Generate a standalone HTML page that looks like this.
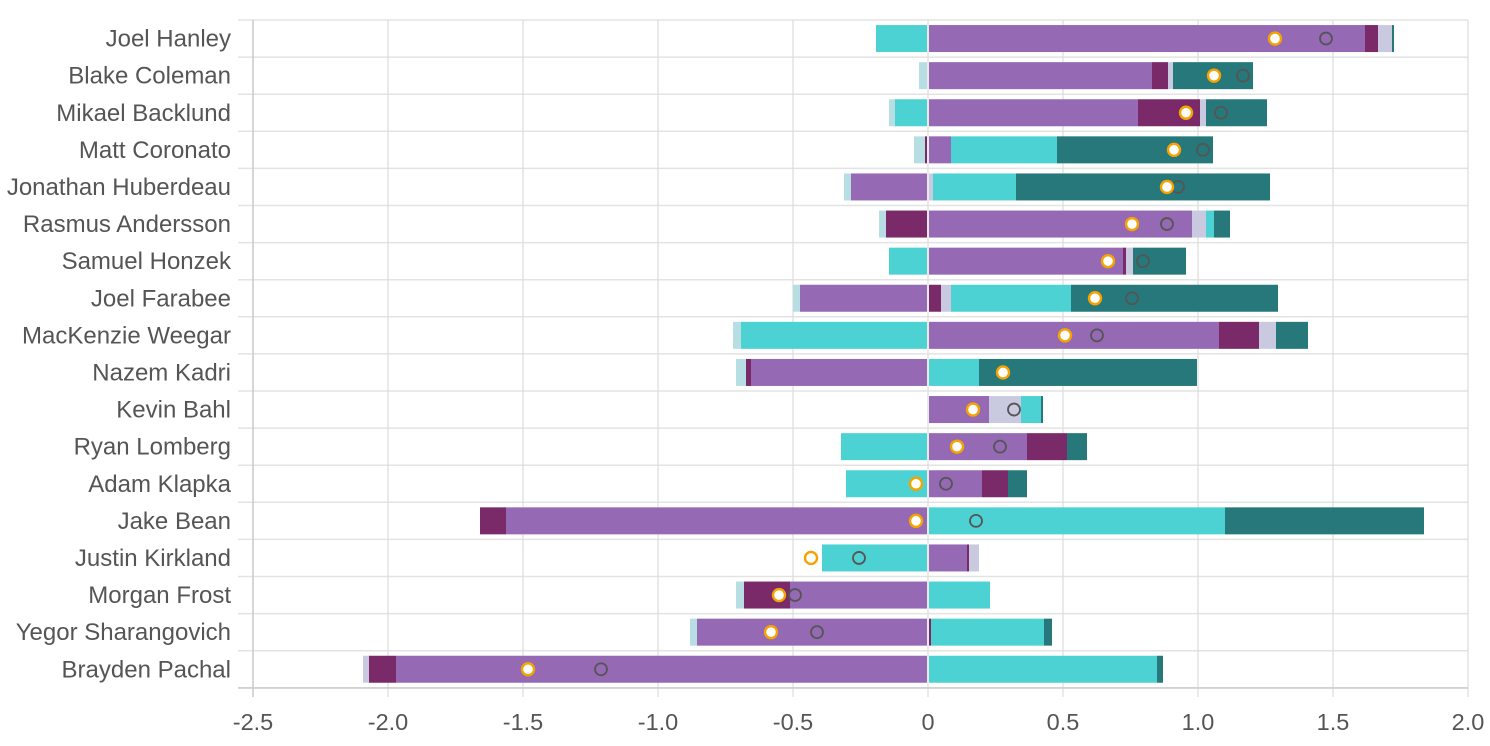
<!DOCTYPE html>
<html><head><style>body{margin:0;background:#fff}svg{display:block}text{font-family:"Liberation Sans",Arial,sans-serif;fill:#555}</style></head>
<body>
<svg id="s" width="1490" height="746" xmlns="http://www.w3.org/2000/svg">
<g id="grid"></g><g id="bars"></g><g id="pts"></g><g id="lab"></g>
</svg>
<script>
(function(){
var C={p:'#9569b4',d:'#7a2a68',l:'#c9cae0',t:'#26787a',c:'#4dd2d4',k:'#b7dfe3'};
var rows=[
["Joel Hanley",[["c",876,927],["p",929,1365],["d",1365,1378],["l",1378,1392],["t",1392,1394]],1275,1326],
["Blake Coleman",[["k",919,927],["p",929,1152],["d",1152,1168],["l",1168,1173],["t",1173,1253]],1214,1243],
["Mikael Backlund",[["k",889,895],["c",895,927],["p",929,1138],["d",1138,1200],["l",1200,1206],["t",1206,1267]],1186,1221],
["Matt Coronato",[["k",914,925],["d",925,927],["p",929,951],["c",951,1057],["t",1057,1213]],1174,1203],
["Jonathan Huberdeau",[["k",844,851],["p",851,927],["l",929,933],["c",933,1016],["t",1016,1270]],1167,1178],
["Rasmus Andersson",[["k",879,886],["d",886,927],["p",929,1192],["l",1192,1206],["c",1206,1214],["t",1214,1230]],1132,1167],
["Samuel Honzek",[["c",889,927],["p",929,1123],["d",1123,1126],["l",1126,1133],["t",1133,1186]],1108,1143],
["Joel Farabee",[["k",793,800],["p",800,927],["d",929,941],["l",941,951],["c",951,1071],["t",1071,1278]],1095,1132],
["MacKenzie Weegar",[["k",733,741],["c",741,927],["p",929,1219],["d",1219,1259],["l",1259,1276],["t",1276,1308]],1065,1097],
["Nazem Kadri",[["k",736,746],["d",746,751],["p",751,927],["c",929,979],["t",979,1197]],1003,1003],
["Kevin Bahl",[["p",929,989],["l",989,1021],["c",1021,1041],["t",1041,1043]],973,1014],
["Ryan Lomberg",[["c",841,927],["p",929,1027],["d",1027,1067],["t",1067,1087]],957,1000],
["Adam Klapka",[["c",846,927],["p",929,982],["d",982,1008],["t",1008,1027]],916,946],
["Jake Bean",[["d",480,506],["p",506,927],["c",929,1225],["t",1225,1424]],916,976],
["Justin Kirkland",[["c",822,927],["p",929,967],["d",967,969],["l",969,979]],811,859],
["Morgan Frost",[["k",736,744],["d",744,790],["p",790,927],["c",929,990]],779,795],
["Yegor Sharangovich",[["k",690,697],["p",697,927],["d",929,931],["c",931,1044],["t",1044,1052]],771,817],
["Brayden Pachal",[["l",363,369],["d",369,396],["p",396,927],["c",929,1157],["t",1157,1163]],528,601]];
var NS='http://www.w3.org/2000/svg';
function el(g,t,a,txt){var e=document.createElementNS(NS,t);for(var k in a)e.setAttribute(k,a[k]);if(txt!==undefined)e.textContent=txt;document.getElementById(g).appendChild(e);}
var T0=20,rh=37.1;
for(var k=0;k<=18;k++){var y=T0+k*rh;el('grid','line',{x1:238,x2:1468,y1:y,y2:y,stroke:'#e3e3e3','stroke-width':1.5});}
var ticks=[-2.5,-2,-1.5,-1,-0.5,0,0.5,1,1.5,2];
ticks.forEach(function(v){var x=928+v*270;el('grid','line',{x1:x,x2:x,y1:T0,y2:697,stroke:'#dcdcdc','stroke-width':1.2});
el('lab','text',{x:x,y:730,'text-anchor':'middle','font-size':23.5},v===0?'0':v.toFixed(1));});
el('grid','line',{x1:253,x2:253,y1:T0,y2:697,stroke:'#ccc','stroke-width':1.5});
el('grid','line',{x1:238,x2:1468,y1:688,y2:688,stroke:'#ccc','stroke-width':1.5});
rows.forEach(function(r,i){var cy=T0+rh*i+rh/2;
el('lab','text',{x:231,y:cy+8,'text-anchor':'end','font-size':24},r[0]);
r[1].forEach(function(s){el('bars','rect',{x:s[1],y:cy-13.5,width:s[2]-s[1],height:27,fill:C[s[0]]});});
el('pts','circle',{cx:r[3],cy:cy,r:6,fill:'none',stroke:'#555','stroke-width':1.8});
el('pts','circle',{cx:r[2],cy:cy,r:6,fill:'#fff',stroke:'#f5a300','stroke-width':2.4});
});
})();
</script>
</body></html>
